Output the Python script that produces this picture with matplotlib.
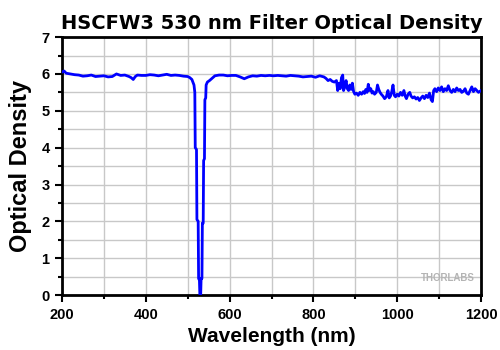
import matplotlib
matplotlib.use("Agg")
import matplotlib.pyplot as plt
from matplotlib.ticker import MultipleLocator

# Wavelength (nm) and optical density
wavelength = [
    200, 205, 210, 220, 230, 240, 250, 260, 270, 280, 290, 300, 310, 320, 330,
    340, 350, 360, 365, 370, 375, 380, 390, 400, 410, 420, 430, 440, 450, 460,
    470, 480, 490, 500, 505, 510, 515, 517, 518, 521, 522, 525, 526, 528, 529,
    531, 532, 534, 535, 537, 538, 540, 541, 543, 544, 547, 552, 558, 565, 575,
    585, 595, 605, 615, 625, 635, 645, 655, 665, 675, 685, 695, 705, 715, 725,
    735, 745, 755, 765, 775, 785, 795, 805, 815, 825, 830, 835, 840, 845, 850,
    855, 858, 861, 864, 867, 870, 872, 875, 878, 881, 884, 887, 890, 893, 896,
    899, 903, 907, 911, 915, 919, 922, 925, 928, 931, 934, 937, 940, 943, 946,
    950, 953, 956, 959, 962, 966, 970, 974, 978, 981, 984, 987, 990, 993, 996,
    1000, 1004, 1008, 1012, 1016, 1019, 1022, 1026, 1030, 1033, 1037, 1041,
    1045, 1049, 1053, 1057, 1061, 1065, 1069, 1073, 1077, 1081, 1084, 1087,
    1090, 1094, 1098, 1102, 1106, 1110, 1114, 1118, 1122, 1126, 1130, 1134,
    1138, 1142, 1146, 1150, 1154, 1158, 1162, 1166, 1170, 1174, 1178, 1182,
    1186, 1190, 1194, 1200,
]
optical_density = [
    6.05, 6.08, 6.02, 6.00, 5.98, 5.97, 5.94, 5.95, 5.97, 5.93, 5.94, 5.95, 5.92, 5.93, 6.00,
    5.96, 5.97, 5.93, 5.90, 5.85, 5.93, 5.97, 5.96, 5.96, 5.98, 5.97, 5.95, 5.97, 5.99, 5.96,
    5.97, 5.96, 5.94, 5.93, 5.90, 5.85, 5.70, 5.50, 4.00, 3.95, 2.05, 2.00, 0.45, 0.40, 0.00,
    0.00, 0.45, 0.45, 1.95, 1.95, 3.65, 3.70, 5.30, 5.35, 5.70, 5.78, 5.82, 5.88, 5.95, 5.97,
    5.97, 5.95, 5.96, 5.96, 5.92, 5.87, 5.92, 5.95, 5.94, 5.96, 5.95, 5.96, 5.95, 5.96, 5.95,
    5.94, 5.96, 5.95, 5.94, 5.92, 5.93, 5.94, 5.91, 5.95, 5.92, 5.88, 5.82, 5.85, 5.80, 5.78,
    5.82, 5.55, 5.75, 5.60, 5.90, 5.97, 5.55, 5.65, 5.82, 5.60, 5.55, 5.70, 5.58, 5.75, 5.52,
    5.45, 5.48, 5.42, 5.50, 5.45, 5.52, 5.47, 5.58, 5.50, 5.72, 5.55, 5.60, 5.48, 5.52, 5.45,
    5.50, 5.70, 5.58, 5.50, 5.45, 5.40, 5.33, 5.38, 5.55, 5.35, 5.40, 5.52, 5.70, 5.42, 5.38,
    5.45, 5.40, 5.50, 5.42, 5.55, 5.40, 5.33, 5.45, 5.50, 5.40, 5.35, 5.38,
    5.32, 5.36, 5.28, 5.35, 5.40, 5.33, 5.42, 5.36, 5.48, 5.30, 5.25, 5.55,
    5.60, 5.52, 5.62, 5.55, 5.65, 5.52, 5.60, 5.55, 5.68, 5.55, 5.50, 5.58,
    5.52, 5.62, 5.55, 5.58, 5.50, 5.53, 5.60, 5.48, 5.45, 5.55, 5.65, 5.52,
    5.60, 5.55, 5.50, 5.55,
]

plt.rcParams["font.family"] = ["Liberation Sans", "DejaVu Sans"]

fig = plt.figure(figsize=(5, 3.5), dpi=100)
ax = fig.add_axes([0.124, 0.157, 0.838, 0.737])

ax.plot(wavelength, optical_density, color="#0000ff", linewidth=2, zorder=3)

ax.set_xlim(200, 1200)
ax.set_ylim(0, 7)
ax.xaxis.set_major_locator(MultipleLocator(200))
ax.xaxis.set_minor_locator(MultipleLocator(100))
ax.yaxis.set_major_locator(MultipleLocator(1))
ax.yaxis.set_minor_locator(MultipleLocator(0.5))
ax.grid(which="both", color="#c8c8c8", linewidth=1.0, zorder=0)

for side in ["left", "right", "top", "bottom"]:
    ax.spines[side].set_linewidth(2)
    ax.spines[side].set_color("black")
ax.tick_params(which="major", direction="out", length=5, width=1.5,
               labelsize=10.5, pad=4)
ax.tick_params(which="minor", direction="out", length=3, width=1.5)
for lbl in ax.get_xticklabels() + ax.get_yticklabels():
    lbl.set_fontweight("bold")

# title font is wider than the tick/label font in the original
ax.set_title("HSCFW3 530 nm Filter Optical Density", fontsize=14,
             fontweight="bold", family="DejaVu Sans", pad=6)
ax.set_xlabel("Wavelength (nm)", fontsize=15, fontweight="bold", labelpad=4)
ax.set_ylabel("Optical Density", fontsize=17, fontweight="bold", labelpad=7)

ax.text(0.985, 0.045, "THORLABS", transform=ax.transAxes, ha="right",
        va="bottom", fontsize=7, fontweight="bold", color="#b4b4b4", zorder=4)

fig.savefig("out.png", dpi=100)
